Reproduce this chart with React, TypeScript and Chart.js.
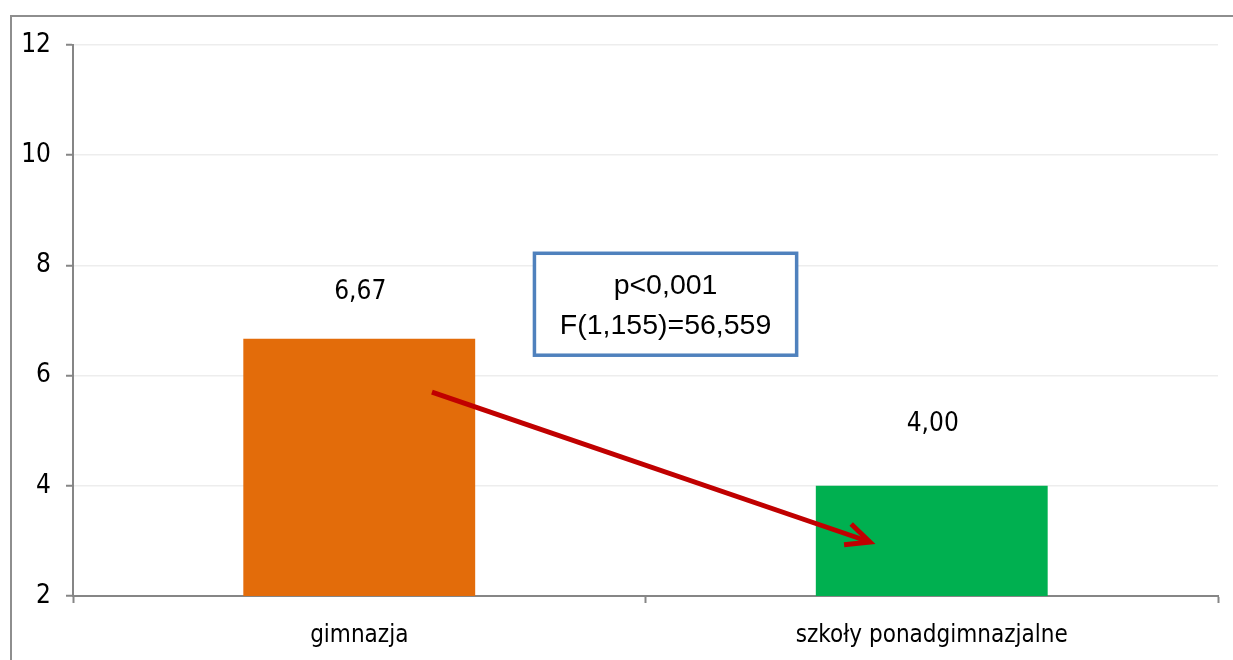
import React, { useEffect, useRef } from "react";
import { Chart, registerables } from "chart.js";

Chart.register(...registerables);

const categories: string[] = ["gimnazja", "szkoły ponadgimnazjalne"];
const values: number[] = [6.67, 4.0];
const valueLabels: string[] = ["6,67", "4,00"];
const barColors: string[] = ["#E36C0A", "#00B050"];
const yTicks: number[] = [2, 4, 6, 8, 10, 12];
const statLines: string[] = ["p<0,001", "F(1,155)=56,559"];

const NARROW = "'Liberation Sans Narrow', 'DejaVu Sans Condensed', 'Liberation Sans', sans-serif";
const REGULAR = "'Liberation Sans', Arial, sans-serif";

const overlayPlugin = {
  id: "overlay",
  afterDatasetsDraw(chart: any) {
    const ctx = chart.ctx;
    const xs = chart.scales.x;
    const ys = chart.scales.y;
    const meta = chart.getDatasetMeta(0);
    const offsets = [46, 62];
    ctx.save();
    ctx.fillStyle = "#000";
    ctx.font = `26px ${NARROW}`;
    ctx.textAlign = "center";
    ctx.textBaseline = "middle";
    meta.data.forEach((bar: any, i: number) => {
      ctx.fillText(valueLabels[i], bar.x + 1, bar.y - offsets[i]);
    });

    // arrow
    const x1 = xs.getPixelForValue(0.127);
    const y1 = ys.getPixelForValue(5.7);
    const x2 = xs.getPixelForValue(0.892);
    const y2 = ys.getPixelForValue(2.98);
    ctx.strokeStyle = "#C00000";
    ctx.lineWidth = 5;
    ctx.lineCap = "butt";
    ctx.beginPath();
    ctx.moveTo(x1, y1);
    ctx.lineTo(x2, y2);
    ctx.stroke();
    const ang = Math.atan2(y2 - y1, x2 - x1);
    const len = 26;
    const spread = (25 * Math.PI) / 180;
    ctx.lineJoin = "miter";
    ctx.beginPath();
    ctx.moveTo(x2 + len * Math.cos(ang + Math.PI - spread), y2 + len * Math.sin(ang + Math.PI - spread));
    ctx.lineTo(x2, y2);
    ctx.lineTo(x2 + len * Math.cos(ang + Math.PI + spread), y2 + len * Math.sin(ang + Math.PI + spread));
    ctx.stroke();

    // stat box
    const bx1 = xs.getPixelForValue(0.306);
    const bx2 = xs.getPixelForValue(0.764);
    const by1 = ys.getPixelForValue(8.22);
    const by2 = ys.getPixelForValue(6.37);
    ctx.fillStyle = "#fff";
    ctx.fillRect(bx1, by1, bx2 - bx1, by2 - by1);
    ctx.strokeStyle = "#4F81BD";
    ctx.lineWidth = 3.5;
    ctx.strokeRect(bx1, by1, bx2 - bx1, by2 - by1);
    ctx.fillStyle = "#000";
    ctx.font = `28.5px ${REGULAR}`;
    const cx = (bx1 + bx2) / 2;
    ctx.fillText(statLines[0], cx, by1 + 33);
    ctx.fillText(statLines[1], cx, by1 + 73);

    ctx.restore();
  },
};

export default function App() {
  const ref = useRef<HTMLCanvasElement | null>(null);
  useEffect(() => {
    if (!ref.current) return;
    const chart = new Chart(ref.current, {
      type: "bar",
      data: {
        labels: categories,
        datasets: [
          {
            data: values,
            backgroundColor: barColors,
            borderWidth: 0,
            categoryPercentage: 1,
            barPercentage: 0.405,
          },
        ],
      },
      options: {
        animation: false,
        responsive: false,
        events: [],
        layout: { padding: { left: 0, top: 45, right: 15, bottom: 0 } },
        plugins: { legend: { display: false }, tooltip: { enabled: false } },
        scales: {
          x: {
            grid: {
              offset: true,
              drawOnChartArea: false,
              drawTicks: true,
              tickLength: 7,
              tickColor: "#868686",
              tickWidth: 2,
            },
            border: { color: "#868686", width: 2 },
            ticks: {
              color: "#000",
              font: { family: NARROW, size: 24 },
              padding: 18,
            },
            afterFit: (scale: any) => {
              scale.height = 64;
            },
          },
          y: {
            min: 2,
            max: 12,
            afterBuildTicks: (scale: any) => {
              scale.ticks = yTicks.map((v) => ({ value: v }));
            },
            grid: {
              color: "#EDEDED",
              lineWidth: 1.5,
              tickLength: 7,
              tickColor: "#868686",
              tickWidth: 2,
            },
            border: { color: "#868686", width: 2 },
            ticks: {
              color: "#000",
              font: { family: NARROW, size: 26 },
              padding: 15,
            },
            afterFit: (scale: any) => {
              scale.width = 73;
            },
          },
        },
      },
      plugins: [overlayPlugin],
    });
    return () => chart.destroy();
  }, []);

  return (
    <div style={{ position: "fixed", left: 0, top: 0, width: 1233, height: 660, background: "#fff" }}>
      <div
        style={{
          position: "absolute",
          left: 10,
          top: 15,
          width: 1240,
          height: 700,
          borderTop: "2px solid #8E8E8E",
          borderLeft: "2px solid #8E8E8E",
          boxSizing: "border-box",
        }}
      />
      <canvas ref={ref} width={1233} height={660} style={{ position: "absolute", left: 0, top: 0, width: 1233, height: 660 }} />
    </div>
  );
}
